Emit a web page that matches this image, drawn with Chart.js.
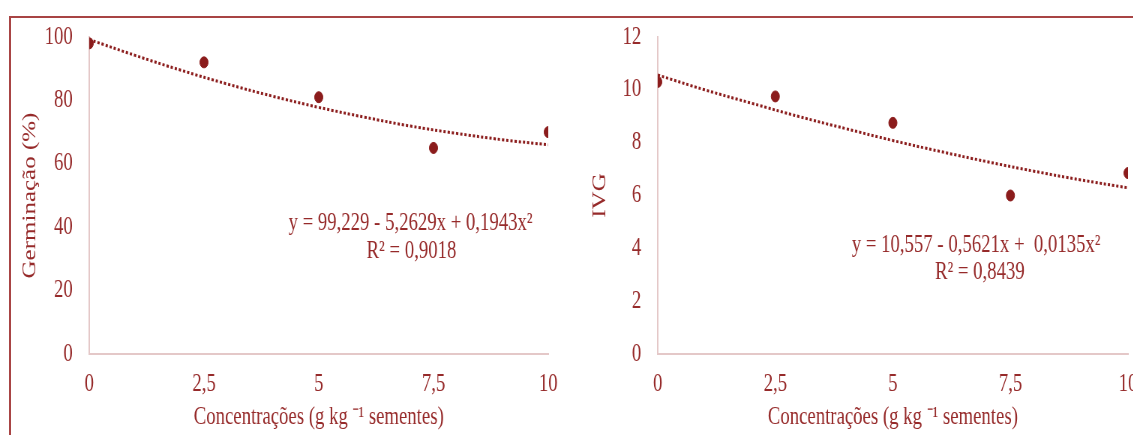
<!DOCTYPE html>
<html>
<head>
<meta charset="utf-8">
<script src="https://cdn.jsdelivr.net/npm/chart.js@4.4.1/dist/chart.umd.min.js"></script>
<style>
    html, body { margin: 0; padding: 0; background: #fff; overflow: hidden; }
    body { width: 1133px; height: 435px; position: relative; }
    #frame {
        position: absolute; left: 9px; top: 16px; width: 1200px; height: 500px;
        border: 2px solid #a84444;
    }
    canvas { position: absolute; top: 0; }
</style>
</head>
<body>
<div id="frame"></div>
<!-- the original figure is squeezed horizontally, so canvases are drawn wider and shown narrower -->
<canvas id="germ" width="760" height="435" style="left:0px;width:570px;height:435px"></canvas>
<canvas id="ivg" width="800" height="435" style="left:570px;width:600px;height:435px"></canvas>
<script>
const concentracoes = [0, 2.5, 5, 7.5, 10];
const germinacao = [98, 92, 81, 65, 70];
const ivg = [10.3, 9.75, 8.75, 6.0, 6.85];

// dotted trend curves
const tendenciaX = [0, 1, 2, 3, 4, 5, 6, 7, 8, 9, 10];
const germinacaoTendencia = [99.2, 94.2, 89.5, 85.2, 81.3, 77.8, 74.7, 71.9, 69.6, 67.6, 66.0];
const ivgTendencia = [10.56, 10.0, 9.49, 8.99, 8.53, 8.08, 7.67, 7.28, 6.92, 6.59, 6.29];

const xTicks = [0, 2.5, 5, 7.5, 10];
const germTicks = [0, 20, 40, 60, 80, 100];
const ivgTicks = [0, 2, 4, 6, 8, 10, 12];

const tituloX = 'Concentrações (g kg \u207B\u00B9 sementes)';

const RED = '#8b1c1c';
const TEXT = '#962a2a';
const AXIS = '#e4c8c8';
const FONT = "'Liberation Serif', 'Times New Roman', serif";

const pairs = (xs, ys) => xs.map((x, i) => ({ x, y: ys[i] }));
const comma = v => String(v).replace('.', ',');

// draws the regression equation text inside the plot
const equationPlugin = (lines) => ({
    id: 'equacao',
    afterDatasetsDraw(chart) {
        const { ctx, scales } = chart;
        ctx.save();
        ctx.fillStyle = TEXT;
        ctx.font = `25px ${FONT}`;
        ctx.textAlign = 'center';
        ctx.textBaseline = 'middle';
        lines.forEach(l => {
            ctx.fillText(l.text, scales.x.getPixelForValue(l.x), scales.y.getPixelForValue(l.y));
        });
        ctx.restore();
    }
});

const makeChart = (id, cfg) => {
    new Chart(document.getElementById(id), {
        type: 'scatter',
        data: {
            datasets: [
                {
                    data: pairs(concentracoes, cfg.values),
                    backgroundColor: RED,
                    borderColor: RED,
                    pointRadius: 5.5,
                    pointHoverRadius: 5.5
                },
                {
                    type: 'line',
                    data: pairs(tendenciaX, cfg.trend),
                    borderColor: RED,
                    borderWidth: 3,
                    borderDash: [3, 2.6],
                    pointRadius: 0,
                    tension: 0.4,
                    fill: false
                }
            ]
        },
        options: {
            responsive: false,
            animation: false,
            devicePixelRatio: 1,
            layout: { padding: { top: 35, right: cfg.padRight, left: 0, bottom: 0 } },
            plugins: { legend: { display: false }, tooltip: { enabled: false } },
            scales: {
                x: {
                    type: 'linear',
                    min: 0, max: 10,
                    afterBuildTicks: s => { s.ticks = xTicks.map(v => ({ value: v })); },
                    afterFit: s => { s.height = 81; },
                    grid: { display: false, drawTicks: false },
                    border: { display: true, color: AXIS, width: 2 },
                    ticks: {
                        color: TEXT, padding: 15, maxRotation: 0,
                        font: { family: FONT, size: 25 },
                        callback: comma
                    },
                    title: {
                        display: true, text: tituloX, color: TEXT,
                        font: { family: FONT, size: 25 },
                        padding: { top: 0, bottom: 3 }
                    }
                },
                y: {
                    min: 0, max: cfg.max,
                    afterBuildTicks: s => { s.ticks = cfg.ticks.map(v => ({ value: v })); },
                    afterFit: s => { s.width = cfg.axisWidth; },
                    grid: { display: false, drawTicks: false },
                    border: { display: true, color: AXIS, width: 2 },
                    ticks: {
                        color: TEXT, padding: 22,
                        font: { family: FONT, size: 25 }
                    },
                    title: {
                        display: true, text: cfg.title, color: TEXT,
                        font: { family: FONT, size: 25 },
                        padding: { top: 25, bottom: 0 }
                    }
                }
            }
        },
        plugins: [equationPlugin(cfg.lines)]
    });
};

makeChart('germ', {
    values: germinacao,
    trend: germinacaoTendencia,
    ticks: germTicks,
    max: 100,
    title: 'Germinação (%)',
    axisWidth: 119,
    padRight: 29,
    lines: [
        { text: 'y = 99,229 - 5,2629x + 0,1943x²', x: 7.0, y: 41.1 },
        { text: 'R² = 0,9018', x: 7.02, y: 32.3 }
    ]
});

makeChart('ivg', {
    values: ivg,
    trend: ivgTendencia,
    ticks: ivgTicks,
    max: 12,
    title: 'IVG',
    axisWidth: 117,
    padRight: 56,
    lines: [
        { text: 'y = 10,557 - 0,5621x +  0,0135x²', x: 6.77, y: 4.1 },
        { text: 'R² = 0,8439', x: 6.85, y: 3.08 }
    ]
});
</script>
</body>
</html>
